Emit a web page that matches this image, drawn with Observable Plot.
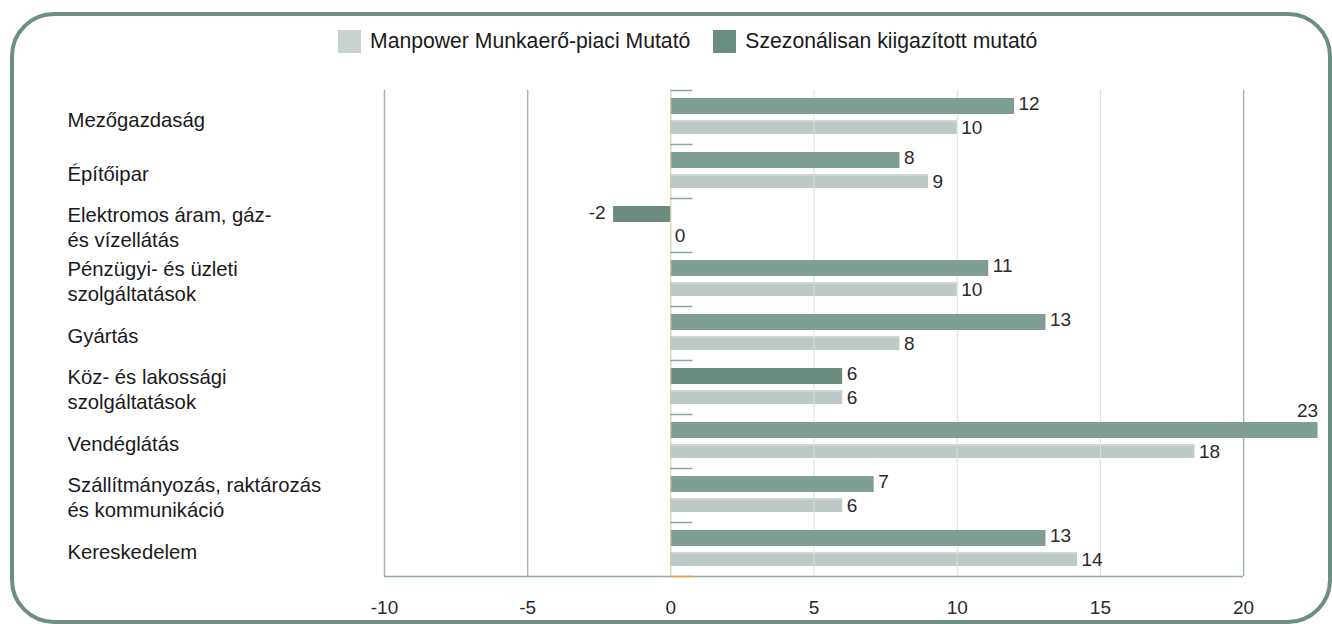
<!DOCTYPE html>
<html>
<head>
<meta charset="utf-8">
<script src="https://cdn.jsdelivr.net/npm/d3@7"></script>
<script src="https://cdn.jsdelivr.net/npm/@observablehq/plot@0.6"></script>
<style>
  body { margin: 0; background: #fff; font-family: "Liberation Sans", Arial, sans-serif; }
  #wrap { position: relative; width: 1332px; height: 624px; overflow: hidden; }
  #border { position: absolute; left: 10px; top: 12px; width: 1322px; height: 612px; box-sizing: border-box;
            border: 4px solid #6b8f80; border-radius: 44px; pointer-events: none; }
  #legend { position: absolute; top: 29px; left: 338px; display: flex; align-items: center;
            font-size: 21.2px; color: #1a1a1a; white-space: nowrap; }
  #legend .sw { width: 23px; height: 23px; display: inline-block; margin-right: 9px; }
  #legend .item { display: flex; align-items: center; margin-right: 23px; }
  #chart { position: absolute; left: 0; top: 0; }
</style>
</head>
<body>
<div id="wrap">
  <div id="chart"></div>
  <div id="legend"></div>
  <div id="border"></div>
</div>
<script>
// ---- data ----
const categories = [
  "Mezőgazdaság",
  "Építőipar",
  "Elektromos áram, gáz-\nés vízellátás",
  "Pénzügyi- és üzleti\nszolgáltatások",
  "Gyártás",
  "Köz- és lakossági\nszolgáltatások",
  "Vendéglátás",
  "Szállítmányozás, raktározás\nés kommunikáció",
  "Kereskedelem"
];
const seriesNames = ["Manpower Munkaerő-piaci Mutató", "Szezonálisan kiigazított mutató"];
const manpower = [10, 9, 0, 10, 8, 6, 18.3, 6, 14.2];
const seasonal = [12, 8, -2, 11.1, 13.1, 6, 22.6, 7.1, 13.1];
const xTicks = [-10, -5, 0, 5, 10, 15, 20];

// ---- styles ----
const lightFill = "#bcc9c4";
const darkFill = "#7f9e94";
const darkFill2 = "#6b8c7e";
const legendColors = ["#c8d3cf", "#6a8f80"];
const darker = new Set([categories[2], categories[5]]);

const rows = categories.map((c, i) => ({c, m: manpower[i], s: seasonal[i]}));
const width = 1332, height = 624;
const marginTop = 90, marginBottom = 48, marginLeft = 384, marginRight = 3;
const bw = (height - marginTop - marginBottom) / categories.length;
const xMin = -10, xGridMax = 20, xMax = 23;
const fmt = v => String(Math.round(v));
const fs = 19;

const plot = Plot.plot({
  width, height, marginTop, marginBottom, marginLeft, marginRight,
  style: {fontFamily: '"Liberation Sans", Arial, sans-serif', fontSize: fs + "px", color: "#222", background: "transparent"},
  x: {domain: [xMin, xMax], axis: null},
  y: {domain: categories, padding: 0, axis: null},
  marks: [
    // outer grid (-10, -5, 20) and bottom axis line
    Plot.ruleX(xTicks.filter(t => t < 0 || t === xGridMax), {stroke: "#a2b7af", strokeWidth: 1.5}),
    Plot.ruleY([categories[categories.length - 1]], {x1: xMin, x2: xGridMax, dy: bw / 2, stroke: "#8fa89f", strokeWidth: 1.5}),
    // light bars
    Plot.barX(rows, {y: "c", x1: 0, x2: "m", fill: lightFill, insetTop: 30, insetBottom: 10}),
    Plot.ruleY(rows.filter(d => d.m !== 0), {y: "c", x1: 0, x2: "m", dy: 30 - bw / 2 + 0.5, stroke: "#dfe6e3", strokeWidth: 1}),
    // inner grid
    Plot.ruleX(xTicks.filter(t => t > 0 && t < xGridMax), {stroke: "#dadddc", strokeWidth: 1}),
    // dark bars
    Plot.barX(rows.filter(d => !darker.has(d.c)), {y: "c", x1: 0, x2: "s", fill: darkFill, insetTop: 8, insetBottom: 30}),
    Plot.barX(rows.filter(d => darker.has(d.c)), {y: "c", x1: 0, x2: "s", fill: darkFill2, insetTop: 8, insetBottom: 30}),
    // zero line
    Plot.ruleX([0], {stroke: "#d3c4a2", strokeWidth: 1}),
    // short ticks at band tops
    Plot.ruleY(categories, {x1: 0, x2: 0.77, dy: -bw / 2, stroke: "#8aa59b", strokeWidth: 1.5}),
    Plot.ruleY([categories[categories.length - 1]], {x1: 0, x2: 0.77, dy: bw / 2, stroke: "#f0a040", strokeWidth: 1.5}),
    // category labels
    Plot.text(categories, {y: d => d, text: d => d, frameAnchor: "left", textAnchor: "start",
      dx: 67 - marginLeft, dy: 1, lineHeight: 1.25, fontSize: 20.3, fill: "#1a1a1a"}),
    // value labels: light
    Plot.text(rows, {y: "c", x: "m", text: d => fmt(d.m), textAnchor: "start", dx: 4, dy: 10, fill: "#2a2a2a"}),
    // value labels: dark
    Plot.text(rows.filter(d => d.s >= 0 && d.s <= xGridMax), {y: "c", x: "s", text: d => fmt(d.s), textAnchor: "start", dx: 4, dy: -14, fill: "#2a2a2a"}),
    Plot.text(rows.filter(d => d.s < 0), {y: "c", x: "s", text: d => fmt(d.s), textAnchor: "end", dx: -8, dy: -13, fill: "#2a2a2a"}),
    Plot.text(rows.filter(d => d.s > xGridMax), {y: "c", x: "s", text: d => fmt(d.s), textAnchor: "end", dx: 0, dy: -31, fill: "#2a2a2a"}),
    // x axis
    Plot.axisX({ticks: xTicks, tickSize: 0, tickPadding: 24, tickFormat: d => String(d), fill: "#2a2a2a"})
  ]
});
document.getElementById("chart").appendChild(plot);

// legend
const legend = document.getElementById("legend");
seriesNames.forEach((name, i) => {
  const item = document.createElement("div");
  item.className = "item";
  const sw = document.createElement("span");
  sw.className = "sw";
  sw.style.background = legendColors[i];
  const t = document.createElement("span");
  t.textContent = name;
  item.appendChild(sw); item.appendChild(t);
  legend.appendChild(item);
});
</script>
</body>
</html>
